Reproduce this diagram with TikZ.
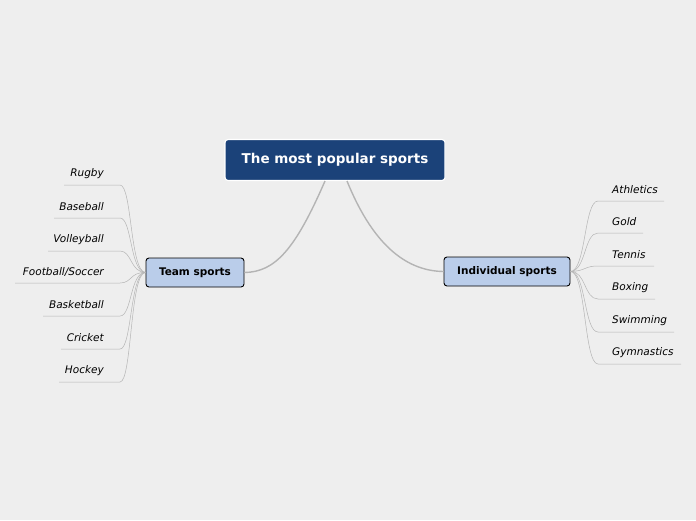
\documentclass[tikz,border=0pt]{standalone}
\usepackage{fontspec}
\setmainfont{DejaVu Sans}
\usetikzlibrary{positioning}
\definecolor{bgcol}{HTML}{EEEEEE}
\definecolor{rootcol}{HTML}{1B4279}
\definecolor{subcol}{HTML}{BACDEA}
\definecolor{linecol}{HTML}{B4B4B4}
\tikzset{
  rootbox/.style={draw=white,line width=1.2pt,fill=rootcol,rounded corners=3pt,text=white,
    font=\fontsize{13.5}{16}\selectfont\bfseries,minimum width=220pt,minimum height=41pt},
  subbox/.style={draw=black,line width=0.9pt,fill=subcol,rounded corners=3pt,
    font=\fontsize{10.5}{12}\selectfont\bfseries,minimum height=29pt,inner xsep=8pt},
  leaf/.style={font=\fontsize{10.5}{12}\selectfont\itshape,inner sep=0pt},
  branch/.style={draw=linecol,line width=1.4pt},
  twig/.style={draw=linecol,line width=0.5pt}
}
\begin{document}
\begin{tikzpicture}[x=1pt,y=-1pt]
\useasboundingbox[fill=bgcol] (0,0) rectangle (696,520);
\node[rootbox] (root) at (335,160) {The most popular sports};
\node[subbox,minimum width=98pt] (team) at (195,272.5) {Team sports};
\node[subbox,minimum width=126pt] (indiv) at (507,271.5) {Individual sports};
% main branches
\draw[branch] (325,181) .. controls (295,250) and (275,272) .. (team.east);
\draw[branch] (347,181) .. controls (375,250) and (410,271) .. (indiv.west);
% team sports leaves
\foreach \name/\ty/\lx [count=\i] in {Rugby/174/64,Baseball/207/54,Volleyball/240/48,Football\slash Soccer/272/15,Basketball/305/43,Cricket/338/61,Hockey/371/59}{
  \node[leaf,anchor=east] (t\i) at (104,\ty) {\name};
  \coordinate (tl\i) at (\lx,\ty+11);
  \coordinate (te\i) at (120,\ty+11);
  \draw[twig] (tl\i) -- (te\i) .. controls (132,\ty+11) and (130,272) .. (team.west);
}
% individual sports leaves
\foreach \name/\ty/\rx [count=\i] in {Athletics/190/664,Gold/222/643,Tennis/255/654,Boxing/288/655,Swimming/321/674,Gymnastics/353/681}{
  \node[leaf,anchor=west] (s\i) at (612,\ty) {\name};
  \coordinate (sl\i) at (598,\ty+11);
  \coordinate (se\i) at (\rx,\ty+11);
  \draw[twig] (indiv.east) .. controls (586,271) and (584,\ty+11) .. (sl\i) -- (se\i);
}
\end{tikzpicture}
\end{document}
